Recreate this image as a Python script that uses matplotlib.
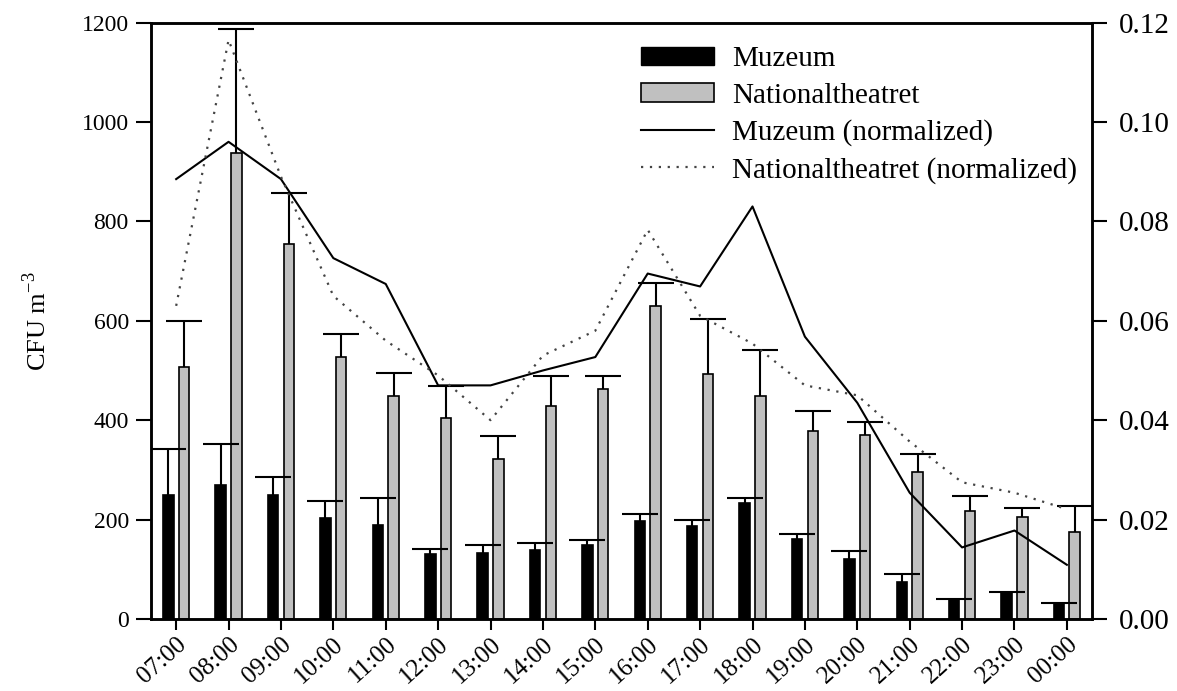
import numpy as np
import matplotlib.pyplot as plt
from matplotlib.patches import Patch
from matplotlib.lines import Line2D

plt.rcParams['font.family'] = ['Liberation Serif', 'DejaVu Serif']

hours = ['07:00', '08:00', '09:00', '10:00', '11:00', '12:00', '13:00', '14:00', '15:00',
         '16:00', '17:00', '18:00', '19:00', '20:00', '21:00', '22:00', '23:00', '00:00']

# CFU m-3, mean and upper error
muzeum = [250, 270, 249, 204, 190, 131, 133, 139, 149, 197, 187, 234, 160, 121, 74, 39, 53, 31]
muzeum_err = [92, 82, 37, 33, 54, 9, 15, 13, 9, 15, 12, 10, 10, 16, 16, 2, 2, 1]
national = [506, 937, 755, 528, 449, 404, 321, 429, 462, 630, 492, 449, 379, 371, 295, 217, 205, 176]
national_err = [93, 250, 102, 45, 45, 64, 47, 59, 26, 45, 111, 92, 39, 25, 37, 31, 18, 52]

# normalized series (right axis)
muzeum_norm = [0.0885, 0.096, 0.0885, 0.0726, 0.0674, 0.047, 0.047, 0.050, 0.0527, 0.0695,
               0.0669, 0.083, 0.0568, 0.0435, 0.0254, 0.0144, 0.0178, 0.0109]
national_norm = [0.063, 0.1165, 0.089, 0.065, 0.056, 0.049, 0.040, 0.053, 0.058, 0.0783,
                 0.061, 0.0554, 0.047, 0.045, 0.0357, 0.0275, 0.0254, 0.0221]

x = np.arange(len(hours))
w = 0.2
grey = '#c0c0c0'

fig = plt.figure(figsize=(11.77, 6.91), dpi=100)
ax = fig.add_axes([0.1283, 0.1042, 0.7995, 0.8632])


def upper_errbar(xpos, vals, err):
    # one-sided error bars: only the upper whisker and cap
    lo = np.zeros(len(vals))
    _, caps, _ = ax.errorbar(xpos, vals, yerr=[lo, err], fmt='none', ecolor='black',
                             elinewidth=1.5, capsize=13, capthick=1.5, zorder=3)
    caps[0].set_visible(False)


ax.bar(x - 0.15, muzeum, w, color='black', edgecolor='black', linewidth=1.2, zorder=2)
upper_errbar(x - 0.15, muzeum, muzeum_err)
ax.bar(x + 0.15, national, w, color=grey, edgecolor='black', linewidth=1.2, zorder=2)
upper_errbar(x + 0.15, national, national_err)

ax.set_xlim(-0.48, 17.48)
ax.set_ylim(0, 1200)
ax.set_yticks(np.arange(0, 1201, 200))
ax.set_xticks(x)
ax.set_xticklabels(hours, rotation=42, ha='right', va='top', rotation_mode='anchor')
ax.set_ylabel('CFU m$^{\\mathregular{-3}}$', fontsize=19, labelpad=22)
ax.tick_params(axis='y', direction='out', length=11, width=1.5, labelsize=17, pad=5)
ax.tick_params(axis='x', direction='out', length=8, width=1.5, labelsize=18, pad=2)
for s in ax.spines.values():
    s.set_linewidth(1.8)

ax2 = ax.twinx()
ax2.plot(x, muzeum_norm, color='black', linewidth=1.5, zorder=4)
ax2.plot(x, national_norm, color='#444444', linewidth=1.6, linestyle=(0, (1, 3)), zorder=4)
ax2.set_ylim(0, 0.12)
ax2.set_yticks(np.arange(0, 0.121, 0.02))
ax2.set_yticklabels(['%.2f' % v for v in np.arange(0, 0.121, 0.02)])
ax2.tick_params(axis='y', direction='out', length=11, width=1.5, labelsize=21, pad=8)
for s in ax2.spines.values():
    s.set_linewidth(1.8)

handles = [Patch(facecolor='black', edgecolor='black'),
           Patch(facecolor=grey, edgecolor='black', linewidth=1.2),
           Line2D([], [], color='black', linewidth=1.5),
           Line2D([], [], color='#444444', linewidth=1.6, linestyle=(0, (1, 3)))]
labels = ['Muzeum', 'Nationaltheatret', 'Muzeum (normalized)', 'Nationaltheatret (normalized)']
ax2.legend(handles, labels, loc='upper right', bbox_to_anchor=(0.99, 0.97), frameon=False,
           fontsize=21, handlelength=2.5, handleheight=0.62, labelspacing=0.36,
           handletextpad=0.6, borderaxespad=0.0, borderpad=0.2)

fig.savefig('out.png', dpi=100)
